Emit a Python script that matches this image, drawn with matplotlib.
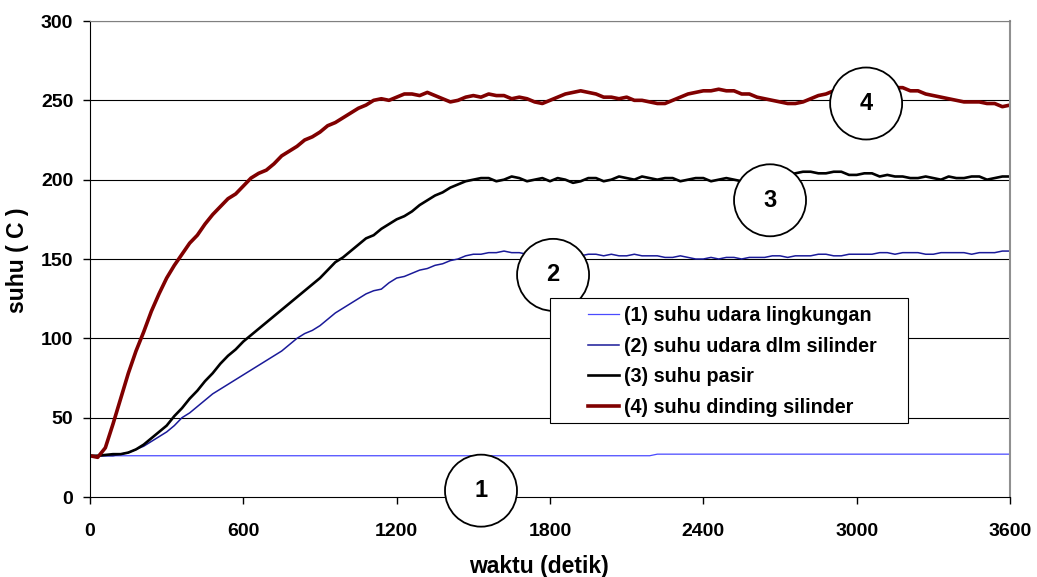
import matplotlib
matplotlib.use("Agg")
import matplotlib.pyplot as plt
from matplotlib.patches import Ellipse, Rectangle

plt.rcParams['font.family'] = ['Liberation Sans', 'DejaVu Sans']
plt.rcParams['font.weight'] = 'bold'

# time axis (detik), one reading every 30 s
waktu = list(range(0, 3601, 30))

# (1) suhu udara lingkungan
suhu_lingkungan = [26, 26, 26, 26, 26, 26, 26, 26, 26, 26,
                   26, 26, 26, 26, 26, 26, 26, 26, 26, 26,
                   26, 26, 26, 26, 26, 26, 26, 26, 26, 26,
                   26, 26, 26, 26, 26, 26, 26, 26, 26, 26,
                   26, 26, 26, 26, 26, 26, 26, 26, 26, 26,
                   26, 26, 26, 26, 26, 26, 26, 26, 26, 26,
                   26, 26, 26, 26, 26, 26, 26, 26, 26, 26,
                   26, 26, 26, 26, 27, 27, 27, 27, 27, 27,
                   27, 27, 27, 27, 27, 27, 27, 27, 27, 27,
                   27, 27, 27, 27, 27, 27, 27, 27, 27, 27,
                   27, 27, 27, 27, 27, 27, 27, 27, 27, 27,
                   27, 27, 27, 27, 27, 27, 27, 27, 27, 27,
                   27]

# (2) suhu udara dlm silinder
suhu_udara = [26, 26, 26, 26, 27, 28, 30, 32, 35, 38,
              41, 45, 50, 53, 57, 61, 65, 68, 71, 74,
              77, 80, 83, 86, 89, 92, 96, 100, 103, 105,
              108, 112, 116, 119, 122, 125, 128, 130, 131, 135,
              138, 139, 141, 143, 144, 146, 147, 149, 150, 152,
              153, 153, 154, 154, 155, 154, 154, 153, 154, 153,
              153, 152, 153, 152, 152, 153, 153, 152, 153, 152,
              152, 153, 152, 152, 152, 151, 151, 152, 151, 150,
              150, 151, 150, 151, 151, 150, 151, 151, 151, 152,
              152, 151, 152, 152, 152, 153, 153, 152, 152, 153,
              153, 153, 153, 154, 154, 153, 154, 154, 154, 153,
              153, 154, 154, 154, 154, 153, 154, 154, 154, 155,
              155]

# (3) suhu pasir
suhu_pasir = [26, 26, 26.5, 27, 27, 28, 30, 33, 37, 41,
              45, 51, 56, 62, 67, 73, 78, 84, 89, 93,
              98, 102, 106, 110, 114, 118, 122, 126, 130, 134,
              138, 143, 148, 151, 155, 159, 163, 165, 169, 172,
              175, 177, 180, 184, 187, 190, 192, 195, 197, 199,
              200, 201, 201, 199, 200, 202, 201, 199, 200, 201,
              199, 201, 200, 198, 199, 201, 201, 199, 200, 202,
              201, 200, 202, 201, 200, 201, 201, 199, 200, 201,
              201, 199, 200, 201, 200, 199, 201, 200, 200, 201,
              202, 203, 204, 205, 205, 204, 204, 205, 205, 203,
              203, 204, 204, 202, 203, 202, 202, 201, 201, 202,
              201, 200, 202, 201, 201, 202, 202, 200, 201, 202,
              202]

# (4) suhu dinding silinder
suhu_dinding = [26, 25, 31, 46, 62, 78, 92, 104, 117, 128,
                138, 146, 153, 160, 165, 172, 178, 183, 188, 191,
                196, 201, 204, 206, 210, 215, 218, 221, 225, 227,
                230, 234, 236, 239, 242, 245, 247, 250, 251, 250,
                252, 254, 254, 253, 255, 253, 251, 249, 250, 252,
                253, 252, 254, 253, 253, 251, 252, 251, 249, 248,
                250, 252, 254, 255, 256, 255, 254, 252, 252, 251,
                252, 250, 250, 249, 248, 248, 250, 252, 254, 255,
                256, 256, 257, 256, 256, 254, 254, 252, 251, 250,
                249, 248, 248, 249, 251, 253, 254, 256, 257, 258,
                259, 260, 260, 259, 259, 258, 258, 256, 256, 254,
                253, 252, 251, 250, 249, 249, 249, 248, 248, 246,
                247]

labels = ['(1) suhu udara lingkungan', '(2) suhu udara dlm silinder',
          '(3) suhu pasir', '(4) suhu dinding silinder']

# numbered circle markers: (label, x, y)
circle_marks = [('1', 1530, 4), ('2', 1812, 140), ('3', 2661, 187), ('4', 3037, 248)]

fig = plt.figure(figsize=(10.37, 5.77), dpi=100)
ax = fig.add_axes([90 / 1037, 80 / 577, 920 / 1037, 476 / 577])

ax.plot(waktu, suhu_lingkungan, color='#4a4aff', lw=0.9, label=labels[0])
ax.plot(waktu, suhu_udara, color='#1a1a99', lw=1.1, label=labels[1])
ax.plot(waktu, suhu_pasir, color='black', lw=1.9, label=labels[2])
ax.plot(waktu, suhu_dinding, color='#800000', lw=2.6, label=labels[3])

ax.set_xlim(0, 3600)
ax.set_ylim(0, 300)
ax.set_xticks(range(0, 3601, 600))
ax.set_yticks(range(0, 301, 50))
for yv in range(50, 301, 50):
    ax.axhline(yv, color='black', lw=0.8, zorder=0)

ax.tick_params(axis='both', direction='out', length=5, width=1, labelsize=14)
ax.tick_params(axis='x', pad=13.5)
ax.tick_params(axis='y', pad=7)
for lab in ax.get_xticklabels() + ax.get_yticklabels():
    lab.set_fontweight('bold')

ax.spines['left'].set_color('black')
ax.spines['bottom'].set_color('black')
ax.spines['top'].set_color('#808080')
ax.spines['right'].set_color('#909090')
ax.spines['right'].set_linewidth(1.5)

ax.set_xlabel('waktu (detik)', fontsize=16.5, fontweight='bold', va='top')
ax.xaxis.set_label_coords(0.488, -0.122)
ax.set_ylabel('suhu ( C )', fontsize=16.5, fontweight='bold', va='center')
ax.yaxis.set_label_coords(-0.079, 0.498)

# circles with numbers, 72 px across
w_data = 72 * 3600 / 920
h_data = 72 * 300 / 476
for txt, cx, cy in circle_marks:
    ax.add_patch(Ellipse((cx, cy), w_data, h_data, facecolor='white',
                         edgecolor='black', lw=1.3, zorder=5, clip_on=False))
    ax.text(cx, cy, txt, ha='center', va='center', fontsize=17,
            fontweight='bold', zorder=6, clip_on=False)

# legend box (wider than the entries, as in the original)
ax.add_patch(Rectangle((0.5, 0.155), 0.389, 0.263, transform=ax.transAxes,
                       facecolor='white', edgecolor='black', lw=0.8, zorder=6))
leg = ax.legend(loc='upper left', bbox_to_anchor=(0.532, 0.418), frameon=False,
                borderaxespad=0, prop={'size': 14.2, 'weight': 'bold'},
                handlelength=1.6, handletextpad=0.25, labelspacing=0.58,
                borderpad=0.42)
leg.set_zorder(7)

fig.savefig('out.png', dpi=100)
